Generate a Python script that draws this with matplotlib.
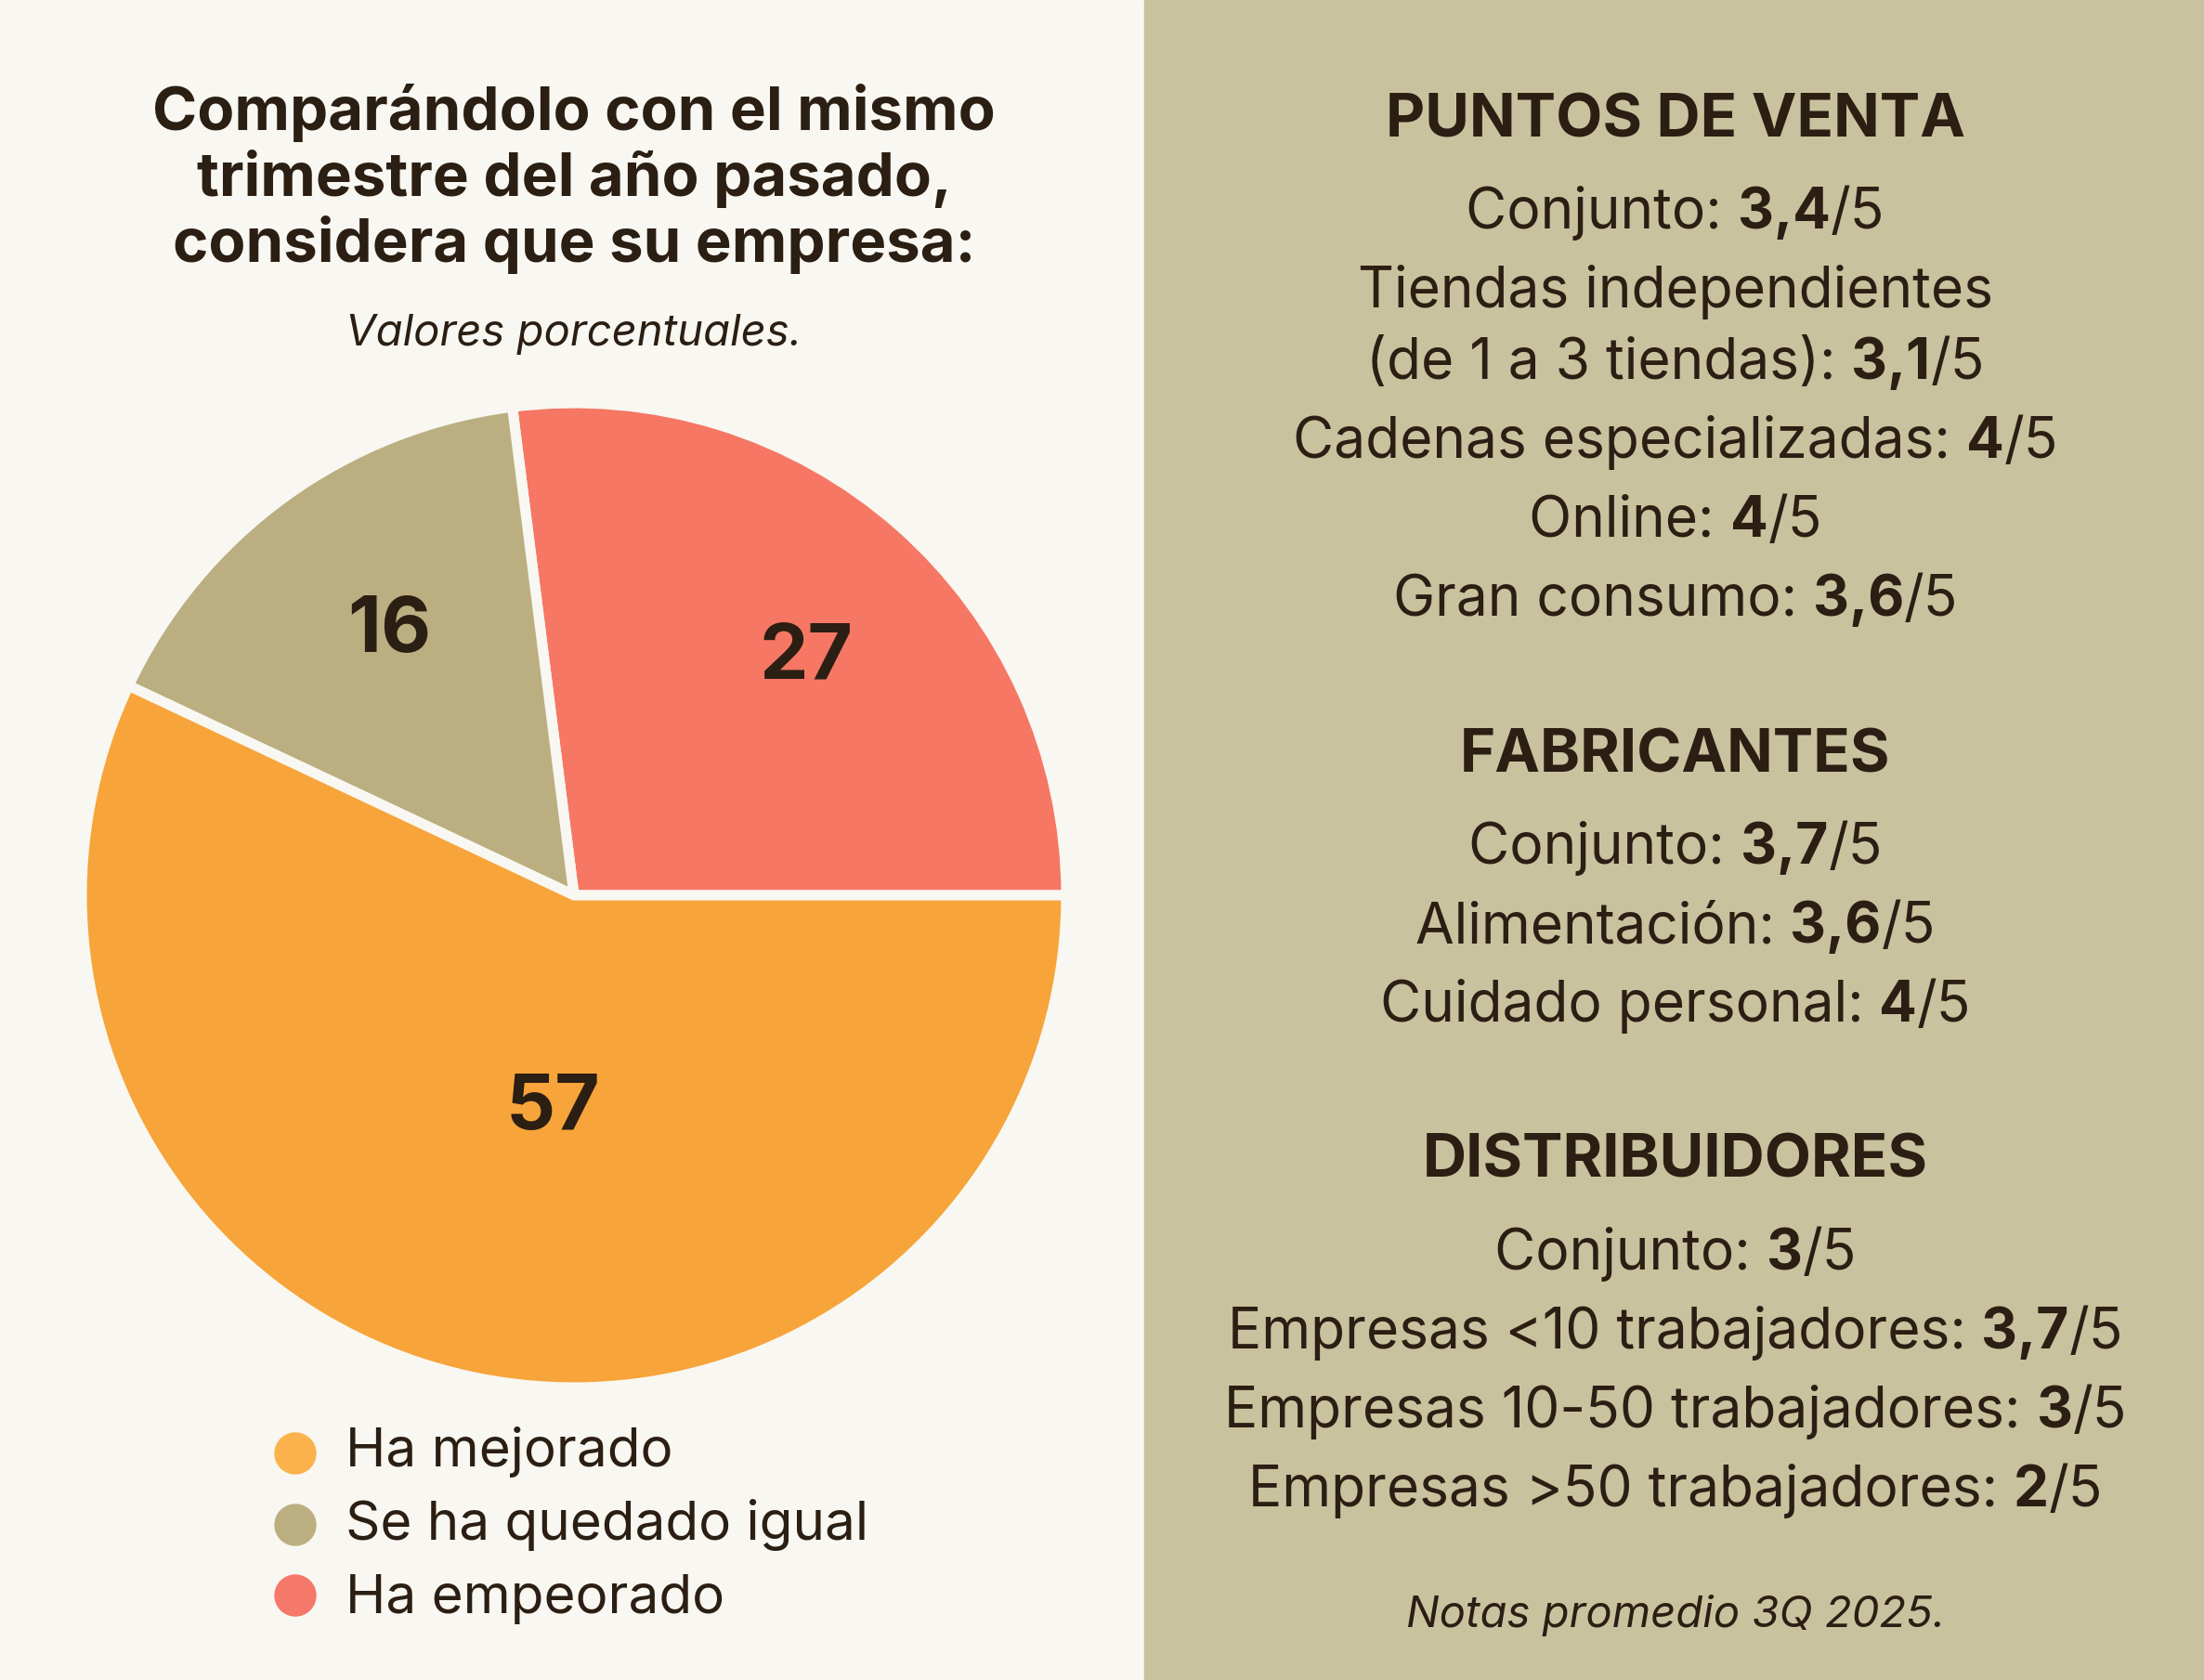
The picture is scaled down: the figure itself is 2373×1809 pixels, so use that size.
import matplotlib
matplotlib.use("Agg")
import matplotlib.pyplot as plt
from matplotlib.patches import Rectangle, Circle
import numpy as np

# datos del gráfico
titulo = ["Comparándolo con el mismo", "trimestre del año pasado,", "considera que su empresa:"]
subtitulo = "Valores porcentuales."
categorias = ["Ha mejorado", "Se ha quedado igual", "Ha empeorado"]
valores = [57, 16, 27]

secciones = ["PUNTOS DE VENTA", "FABRICANTES", "DISTRIBUIDORES"]
puntos_etiquetas = ["Conjunto", "Tiendas independientes\n(de 1 a 3 tiendas)", "Cadenas especializadas",
                    "Online", "Gran consumo"]
puntos_notas = ["3,4", "3,1", "4", "4", "3,6"]
fabricantes_etiquetas = ["Conjunto", "Alimentación", "Cuidado personal"]
fabricantes_notas = ["3,7", "3,6", "4"]
distribuidores_etiquetas = ["Conjunto", "Empresas <10 trabajadores", "Empresas 10-50 trabajadores",
                            "Empresas >50 trabajadores"]
distribuidores_notas = ["3", "3,7", "3", "2"]
nota_pie = "Notas promedio 3Q 2025."

# estilos
W, H = 2373, 1809
fondo_izq = "#F8F7F1"
fondo_der = "#C9C29E"
texto = "#2B1E13"
colores_pie = {"Ha mejorado": "#F7A43A", "Se ha quedado igual": "#BBAF81", "Ha empeorado": "#F57764"}
colores_leyenda = {"Ha mejorado": "#FBB24D", "Se ha quedado igual": "#BBAF82", "Ha empeorado": "#F6786A"}
plt.rcParams['font.family'] = ['Inter', 'DejaVu Sans']

fig = plt.figure(figsize=(W / 100, H / 100), dpi=100, facecolor=fondo_izq)
ax = fig.add_axes([0, 0, 1, 1])
ax.set_facecolor(fondo_izq)

# panel derecho
ax.add_patch(Rectangle((1232, 0), W - 1232, H, color=fondo_der, zorder=0))

# tarta: empieza a las 3 en punto y gira en sentido antihorario
orden = ["Ha empeorado", "Se ha quedado igual", "Ha mejorado"]
vals = [valores[categorias.index(c)] for c in orden]
lw = 8
wedges, _ = ax.pie(vals, colors=[colores_pie[c] for c in orden], startangle=0, counterclock=True,
                   center=(618, 845), radius=530,
                   wedgeprops=dict(edgecolor=fondo_izq, linewidth=lw))

dist = [0.68, 0.66, 0.44]
giro = [-3, -1, 7]
for w, v, d, g in zip(wedges, vals, dist, giro):
    ang = np.deg2rad((w.theta1 + w.theta2) / 2 + g)
    x = 618 + d * 525 * np.cos(ang)
    y = 845 + d * 525 * np.sin(ang)
    ax.text(x, y, str(v), fontsize=60, fontweight='bold', color=texto, ha='center', va='center')

ax.set_xlim(0, W)
ax.set_ylim(0, H)
ax.set_aspect('auto')
ax.axis('off')

# título
for linea, yb in zip(titulo, [1669, 1598, 1527]):
    ax.text(618, yb, linea, fontsize=47, fontweight='bold', color=texto, ha='center', va='baseline')
ax.text(618, 1437, subtitulo, fontsize=34, style='italic', color=texto, ha='center', va='baseline')

# leyenda
for c, yc, yb in zip(categorias, [244, 167, 91], [230, 151, 72]):
    ax.add_patch(Circle((318, yc), 22, color=colores_leyenda[c], zorder=3))
    ax.text(372, yb, c, fontsize=42, color=texto, ha='left', va='baseline')

renderer = fig.canvas.get_renderer()


def linea_mixta(xc, y, partes, size):
    ts = []
    for s, peso in partes:
        ts.append(ax.text(0, y, s, fontsize=size, fontweight=peso, color=texto, ha='left', va='baseline'))
    anchos = [t.get_window_extent(renderer).width for t in ts]
    x = xc - sum(anchos) / 2
    for t, a in zip(ts, anchos):
        t.set_x(x)
        x += a


xc = 1804
y = 1662
grupos = [(puntos_etiquetas, puntos_notas), (fabricantes_etiquetas, fabricantes_notas),
          (distribuidores_etiquetas, distribuidores_notas)]
for sec, (etqs, notas) in zip(secciones, grupos):
    ax.text(xc, y, sec, fontsize=47, fontweight='bold', color=texto, ha='center', va='baseline')
    y -= 99
    for e, n in zip(etqs, notas):
        partes = e.split("\n")
        for p in partes[:-1]:
            ax.text(xc, y, p, fontsize=43.5, color=texto, ha='center', va='baseline')
            y -= 77
        linea_mixta(xc, y, [(partes[-1] + ": ", 'normal'), (n, 'bold'), ("/5", 'normal')], 43.5)
        y -= 85
    y -= 83

ax.text(xc, 57, nota_pie, fontsize=34, style='italic', color=texto, ha='center', va='baseline')

fig.savefig("out.png", dpi=100, facecolor=fondo_izq)
